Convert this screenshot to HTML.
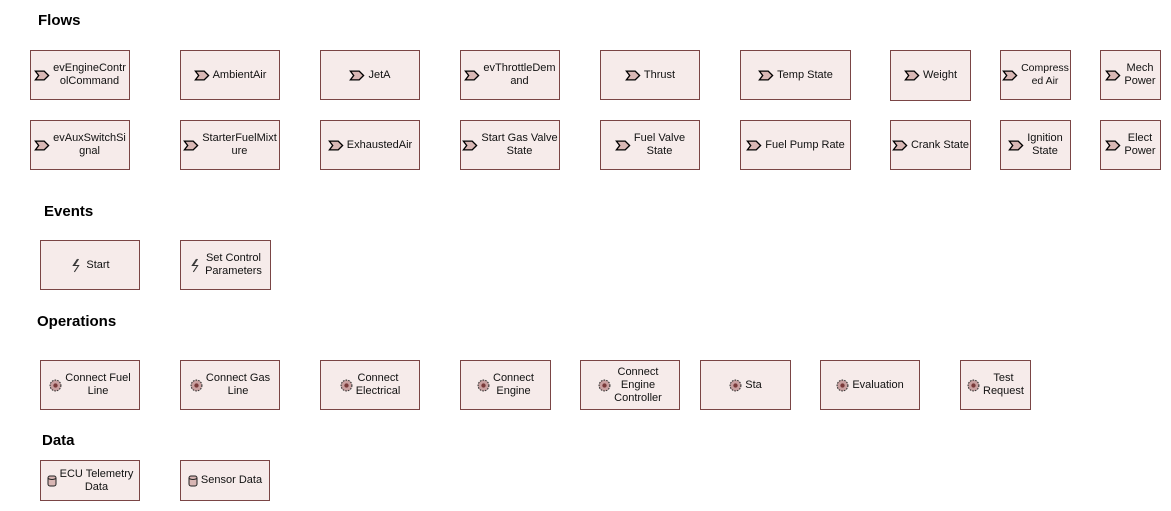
<!DOCTYPE html>
<html><head><meta charset="utf-8"><style>
body{margin:0;width:1171px;height:511px;background:#fff;position:relative;overflow:hidden;font-family:"Liberation Sans",sans-serif;}
h{position:absolute;font-weight:bold;font-size:15px;color:#000;}
.b{position:absolute;box-sizing:border-box;border:1px solid #7a4545;background:#f6ebea;display:flex;align-items:center;justify-content:center;font-size:11px;line-height:13px;color:#111;padding:0 2px;}
.b span{text-align:center;word-break:normal;overflow-wrap:anywhere;}
.b span.n{white-space:nowrap;overflow-wrap:normal;}
.b svg{flex:none;margin-right:3px;}
</style></head><body>
<h style="left:38px;top:12px">Flows</h>
<h style="left:44px;top:203px">Events</h>
<h style="left:37px;top:313px">Operations</h>
<h style="left:42px;top:432px">Data</h>
<svg width="0" height="0" style="position:absolute"><defs>
<symbol id="f" viewBox="0 0 14 10"><path d="M1 1H9L13 5L9 9H1L4 5Z" fill="#d9b8b5" stroke="#000" stroke-width="1.2"/></symbol>
<symbol id="e" viewBox="0 0 12 14"><path d="M7 1L3 7H8L4 13" fill="none" stroke="#333" stroke-width="1"/><path d="M8 1L4 7" fill="none" stroke="#333" stroke-width="0.8"/></symbol>
<symbol id="o" viewBox="0 0 12 12"><circle cx="6" cy="6" r="5" fill="#c9a0a0" stroke="#333" stroke-dasharray="1.5 1"/><circle cx="6" cy="6" r="2" fill="#7a3a3a"/></symbol>
<symbol id="d" viewBox="0 0 10 12"><rect x="1" y="1" width="8" height="10" rx="2" fill="#d8b6b4" stroke="#222"/><path d="M1 3.5Q5 5.5 9 3.5" fill="none" stroke="#222"/></symbol>
</defs></svg>

<div class="b" style="left:30px;top:50px;width:100px;height:50px"><svg width="16" height="11"><use href="#f"/></svg><span class="n">evEngineContr<br>olCommand</span></div>
<div class="b" style="left:180px;top:50px;width:100px;height:50px"><svg width="16" height="11"><use href="#f"/></svg><span>AmbientAir</span></div>
<div class="b" style="left:320px;top:50px;width:100px;height:50px"><svg width="16" height="11"><use href="#f"/></svg><span>JetA</span></div>
<div class="b" style="left:460px;top:50px;width:100px;height:50px"><svg width="16" height="11"><use href="#f"/></svg><span class="n">evThrottleDem<br>and</span></div>
<div class="b" style="left:600px;top:50px;width:100px;height:50px"><svg width="16" height="11"><use href="#f"/></svg><span>Thrust</span></div>
<div class="b" style="left:740px;top:50px;width:111px;height:50px"><svg width="16" height="11"><use href="#f"/></svg><span>Temp State</span></div>
<div class="b" style="left:890px;top:50px;width:81px;height:51px"><svg width="16" height="11"><use href="#f"/></svg><span>Weight</span></div>
<div class="b" style="left:1000px;top:50px;width:71px;height:50px;padding:0"><svg width="16" height="11"><use href="#f"/></svg><span class="n" style="font-size:10.5px">Compress<br>ed Air</span></div>
<div class="b" style="left:1100px;top:50px;width:61px;height:50px"><svg width="16" height="11"><use href="#f"/></svg><span class="n">Mech<br>Power</span></div>

<div class="b" style="left:30px;top:120px;width:100px;height:50px"><svg width="16" height="11"><use href="#f"/></svg><span class="n">evAuxSwitchSi<br>gnal</span></div>
<div class="b" style="left:180px;top:120px;width:100px;height:50px"><svg width="16" height="11"><use href="#f"/></svg><span class="n">StarterFuelMixt<br>ure</span></div>
<div class="b" style="left:320px;top:120px;width:100px;height:50px"><svg width="16" height="11"><use href="#f"/></svg><span>ExhaustedAir</span></div>
<div class="b" style="left:460px;top:120px;width:100px;height:50px"><svg width="16" height="11"><use href="#f"/></svg><span class="n">Start Gas Valve<br>State</span></div>
<div class="b" style="left:600px;top:120px;width:100px;height:50px"><svg width="16" height="11"><use href="#f"/></svg><span class="n">Fuel Valve<br>State</span></div>
<div class="b" style="left:740px;top:120px;width:111px;height:50px"><svg width="16" height="11"><use href="#f"/></svg><span>Fuel Pump Rate</span></div>
<div class="b" style="left:890px;top:120px;width:81px;height:50px"><svg width="16" height="11"><use href="#f"/></svg><span class="n">Crank State</span></div>
<div class="b" style="left:1000px;top:120px;width:71px;height:50px"><svg width="16" height="11"><use href="#f"/></svg><span class="n">Ignition<br>State</span></div>
<div class="b" style="left:1100px;top:120px;width:61px;height:50px"><svg width="16" height="11"><use href="#f"/></svg><span class="n">Elect<br>Power</span></div>

<div class="b" style="left:40px;top:240px;width:100px;height:50px"><svg width="13" height="15"><use href="#e"/></svg><span>Start</span></div>
<div class="b" style="left:180px;top:240px;width:91px;height:50px"><svg width="13" height="15"><use href="#e"/></svg><span class="n">Set Control<br>Parameters</span></div>

<div class="b" style="left:40px;top:360px;width:100px;height:50px"><svg width="13" height="13"><use href="#o"/></svg><span class="n">Connect Fuel<br>Line</span></div>
<div class="b" style="left:180px;top:360px;width:100px;height:50px"><svg width="13" height="13"><use href="#o"/></svg><span class="n">Connect Gas<br>Line</span></div>
<div class="b" style="left:320px;top:360px;width:100px;height:50px"><svg width="13" height="13"><use href="#o"/></svg><span class="n">Connect<br>Electrical</span></div>
<div class="b" style="left:460px;top:360px;width:91px;height:50px"><svg width="13" height="13"><use href="#o"/></svg><span class="n">Connect<br>Engine</span></div>
<div class="b" style="left:580px;top:360px;width:100px;height:50px"><svg width="13" height="13"><use href="#o"/></svg><span class="n">Connect<br>Engine<br>Controller</span></div>
<div class="b" style="left:700px;top:360px;width:91px;height:50px"><svg width="13" height="13"><use href="#o"/></svg><span>Sta</span></div>
<div class="b" style="left:820px;top:360px;width:100px;height:50px"><svg width="13" height="13"><use href="#o"/></svg><span>Evaluation</span></div>
<div class="b" style="left:960px;top:360px;width:71px;height:50px"><svg width="13" height="13"><use href="#o"/></svg><span class="n">Test<br>Request</span></div>

<div class="b" style="left:40px;top:460px;width:100px;height:41px"><svg width="10" height="12"><use href="#d"/></svg><span class="n">ECU Telemetry<br>Data</span></div>
<div class="b" style="left:180px;top:460px;width:90px;height:41px"><svg width="10" height="12"><use href="#d"/></svg><span class="n">Sensor Data</span></div>
</body></html>
